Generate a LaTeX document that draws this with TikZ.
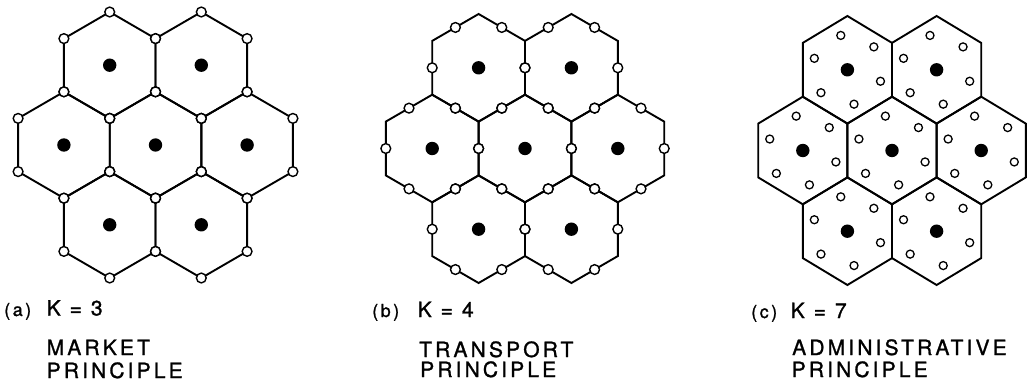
\documentclass[tikz,border=0pt]{standalone}
\usepackage{fontspec}
\setmainfont{TeX Gyre Heros}
\newfontfamily\labfont[LetterSpace=15,FakeBold=1.2]{TeX Gyre Heros}
\newfontfamily\tagfont[LetterSpace=14,FakeBold=1.2]{TeX Gyre Heros}

\tikzset{
  hexedge/.style={line width=1.9pt, line join=miter},
  vtown/.style={draw, fill=white, line width=1.4pt},
  smtown/.style={draw, fill=white, line width=1.3pt},
  ctown/.style={fill=black},
  lab/.style={anchor=base west, inner sep=0pt, font=\labfont\fontsize{21}{25}\selectfont},
  tag/.style={anchor=base west, inner sep=0pt, font=\tagfont\fontsize{18}{21}\selectfont},
}

% #1 cx, #2 cy, #3 half width, #4 vertex radius
\newcommand\hexedges[4]{%
  \foreach \dx/\dy in {-2/0,0/0,2/0,-1/-1.5,1/-1.5,-1/1.5,1/1.5}{
    \begin{scope}[shift={(#1+\dx*#3,#2+\dy*#4)}]
      \draw[hexedge] (0,-#4) -- (#3,-#4/2) -- (#3,#4/2) -- (0,#4)
        -- (-#3,#4/2) -- (-#3,-#4/2) -- cycle;
    \end{scope}
  }
}
\newcommand\hexcentres[4]{%
  \foreach \dx/\dy in {-2/0,0/0,2/0,-1/-1.5,1/-1.5,-1/1.5,1/1.5}{
    \fill[ctown] (#1+\dx*#3,#2+\dy*#4) circle[radius=6.7pt];
  }
}
\newcommand\vertextowns[4]{%
  \foreach \dx/\dy in {-2/0,0/0,2/0,-1/-1.5,1/-1.5,-1/1.5,1/1.5}{
    \begin{scope}[shift={(#1+\dx*#3,#2+\dy*#4)}]
      \foreach \px/\py in {0/-1,1/-0.5,1/0.5,0/1,-1/0.5,-1/-0.5}
        \draw[vtown] (\px*#3,\py*#4) circle[radius=4.9pt];
    \end{scope}
  }
}
\newcommand\edgetowns[4]{%
  \foreach \dx/\dy in {-2/0,0/0,2/0,-1/-1.5,1/-1.5,-1/1.5,1/1.5}{
    \begin{scope}[shift={(#1+\dx*#3,#2+\dy*#4)}]
      \foreach \px/\py in {0.5/-0.75,1/0,0.5/0.75,-0.5/0.75,-1/0,-0.5/-0.75}
        \draw[vtown] (\px*#3,\py*#4) circle[radius=4.9pt];
    \end{scope}
  }
}
\newcommand\innertowns[4]{%
  \foreach \dx/\dy in {-2/0,0/0,2/0,-1/-1.5,1/-1.5,-1/1.5,1/1.5}{
    \begin{scope}[shift={(#1+\dx*#3,#2+\dy*#4)}]
      \foreach \ang in {-19.1,40.9,100.9,160.9,220.9,280.9}
        \draw[smtown] ({35*cos(\ang)},{-35*sin(\ang)}) circle[radius=4.0pt];
    \end{scope}
  }
}

\begin{document}
\begin{tikzpicture}[x=1pt,y=-1pt]
\useasboundingbox (0,0) rectangle (1027,387);

% (a) K = 3
\hexedges{155.5}{145}{45.8}{53.2}
\vertextowns{155.5}{145}{45.8}{53.2}
\hexcentres{155.5}{145}{45.8}{53.2}

% (b) K = 4
\hexedges{525}{148.5}{46.4}{53.8}
\edgetowns{525}{148.5}{46.4}{53.8}
\hexcentres{525}{148.5}{46.4}{53.8}

% (c) K = 7
\hexedges{892}{150.5}{44.6}{53.8}
\innertowns{892}{150.5}{44.6}{53.8}
\hexcentres{892}{150.5}{44.6}{53.8}

% labels
\node[tag] (ta) at (4,316) {(a)};
\node[lab] (ka) at (46.5,315.5) {K = 3};
\node[lab] (pa1) at (46.5,355) {MARKET};
\node[lab] (pa2) at (46.5,378) {PRINCIPLE};

\node[tag] (tb) at (372,317) {(b)};
\node[lab] (kb) at (417.5,317) {K = 4};
\node[lab] (pb1) at (419,357) {TRANSPORT};
\node[lab] (pb2) at (420,377) {PRINCIPLE};

\node[tag] (tc) at (751,318) {(c)};
\node[lab] (kc) at (790.5,318) {K = 7};
\node[lab] (pc1) at (792,355) {ADMINISTRATIVE};
\node[lab] (pc2) at (791.5,377) {PRINCIPLE};
\end{tikzpicture}
\end{document}
